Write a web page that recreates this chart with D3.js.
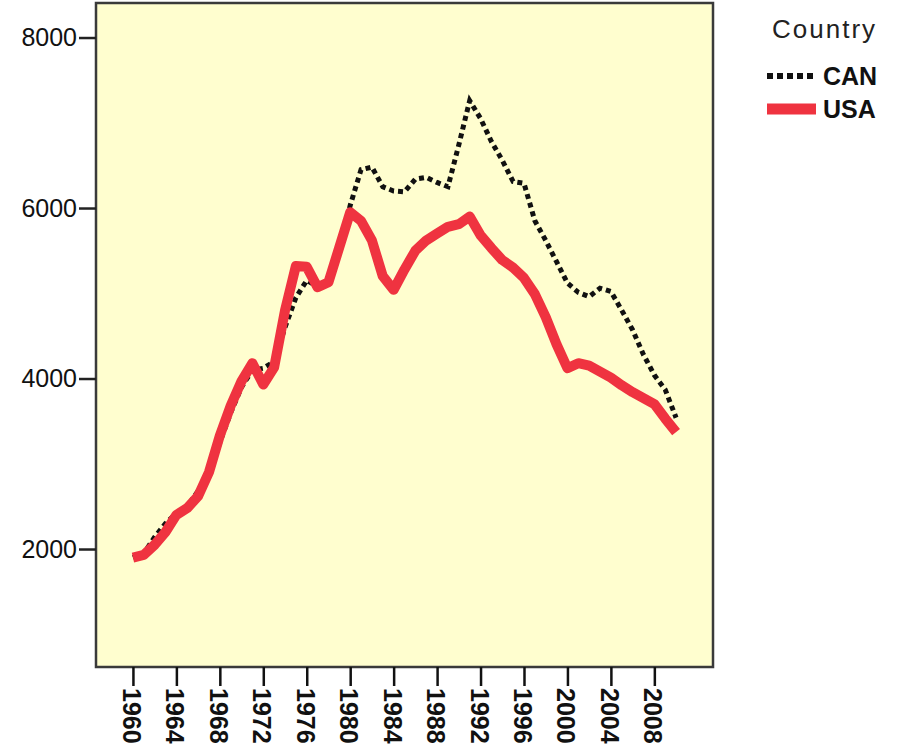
<!DOCTYPE html>
<html>
<head>
<meta charset="utf-8">
<script src="https://cdn.jsdelivr.net/npm/d3@7"></script>
<style>
  body { margin: 0; background: #fff; }
  svg text { font-family: "Liberation Sans", Arial, sans-serif; }
</style>
</head>
<body>
<div id="mainchart"></div>
<script>
var years = d3.range(1960, 2011);
var usa = [1900, 1930, 2050, 2200, 2400, 2480, 2620, 2900, 3330, 3680,
           3970, 4180, 3930, 4130, 4800, 5320, 5310, 5070, 5130, 5540,
           5950, 5850, 5620, 5200, 5040, 5280, 5500, 5620, 5700, 5780,
           5810, 5900, 5680, 5530, 5390, 5300, 5180, 4990, 4720, 4400,
           4120, 4180, 4150, 4080, 4010, 3920, 3840, 3770, 3700, 3530,
           3370];
var can = [1900, 1950, 2140, 2300, 2420, 2500, 2680, 2880, 3250, 3600,
           3900, 4100, 4120, 4200, 4600, 4950, 5150, 5080, 5130, 5500,
           6030, 6450, 6480, 6250, 6200, 6190, 6340, 6360, 6300, 6250,
           6740, 7260, 7050, 6780, 6560, 6310, 6290, 5850, 5620, 5370,
           5120, 5010, 4960, 5060, 5020, 4800, 4570, 4280, 4040, 3870,
           3540];
var yTicks = [2000, 4000, 6000, 8000];
var xTicks = d3.range(1960, 2009, 4);
var series = [
  {name: 'CAN', values: can},
  {name: 'USA', values: usa}
];

var margin = {top: 3, right: 184, bottom: 80, left: 96},
    width = 897 - margin.left - margin.right,
    height = 747 - margin.top - margin.bottom,
    plotBack = '#fffecf', usaRed = '#ef3340';

var svg = d3.select('#mainchart').append('svg')
  .attr('width', 897)
  .attr('height', 747);

var g = svg.append('g').attr('transform', 'translate(' + margin.left + ',' + margin.top + ')');

var x = d3.scalePoint().domain(years).range([0, width]).padding(3.4);
var y = d3.scaleLinear().domain([616, 8405]).range([height, 0]);

g.append('rect')
  .attr('width', width)
  .attr('height', height)
  .attr('fill', plotBack);

var line = d3.line()
  .x(function(d, i) { return x(years[i]); })
  .y(function(d) { return y(d); });

g.append('path')
  .datum(can)
  .attr('fill', 'none')
  .attr('stroke', '#111')
  .attr('stroke-width', 5)
  .attr('stroke-dasharray', '5,4')
  .attr('d', line);

g.append('path')
  .datum(usa)
  .attr('fill', 'none')
  .attr('stroke', usaRed)
  .attr('stroke-width', 10)
  .attr('stroke-linejoin', 'round')
  .attr('d', line);

// frame
g.append('rect')
  .attr('width', width)
  .attr('height', height)
  .attr('fill', 'none')
  .attr('stroke', '#3a3a3a')
  .attr('stroke-width', 2.5);

var yAxis = d3.axisLeft(y).tickValues(yTicks).tickSize(17).tickPadding(2).tickFormat(d3.format('d'));
var gy = g.append('g').call(yAxis);
gy.select('.domain').remove();
gy.selectAll('line').attr('stroke', '#222').attr('stroke-width', 2.5);
gy.selectAll('text').attr('font-size', '25px').attr('fill', '#111');

var xAxis = d3.axisBottom(x).tickValues(xTicks).tickSize(19).tickPadding(0);
var gx = g.append('g').attr('transform', 'translate(0,' + height + ')').call(xAxis);
gx.select('.domain').remove();
gx.selectAll('line').attr('stroke', '#111').attr('stroke-width', 2.5);
gx.selectAll('text')
  .attr('font-size', '25px')
  .attr('font-weight', 'bold')
  .attr('fill', '#111')
  .attr('text-anchor', 'start')
  .attr('transform', 'rotate(90)')
  .attr('x', 21)
  .attr('y', 0)
  .attr('dy', '0.42em');

// legend
var legend = svg.append('g').attr('transform', 'translate(767,0)');
legend.append('text')
  .attr('x', 5).attr('y', 38)
  .attr('font-size', '26px')
  .attr('letter-spacing', '2px')
  .attr('fill', '#222')
  .text('Country');

var items = legend.selectAll('g.item').data(series).enter().append('g')
  .attr('class', 'item')
  .attr('transform', function(d, i) { return 'translate(0,' + (76 + i * 33) + ')'; });

items.append('line')
  .attr('x1', 0).attr('x2', 49)
  .attr('stroke', function(d) { return d.name == 'USA' ? usaRed : '#111'; })
  .attr('stroke-width', function(d) { return d.name == 'USA' ? 11 : 6; })
  .attr('stroke-dasharray', function(d) { return d.name == 'USA' ? null : '6,4'; });

items.append('text')
  .attr('x', 56).attr('y', 9)
  .attr('font-size', '25px')
  .attr('font-weight', 'bold')
  .attr('fill', '#111')
  .text(function(d) { return d.name; });
</script>
</body>
</html>
